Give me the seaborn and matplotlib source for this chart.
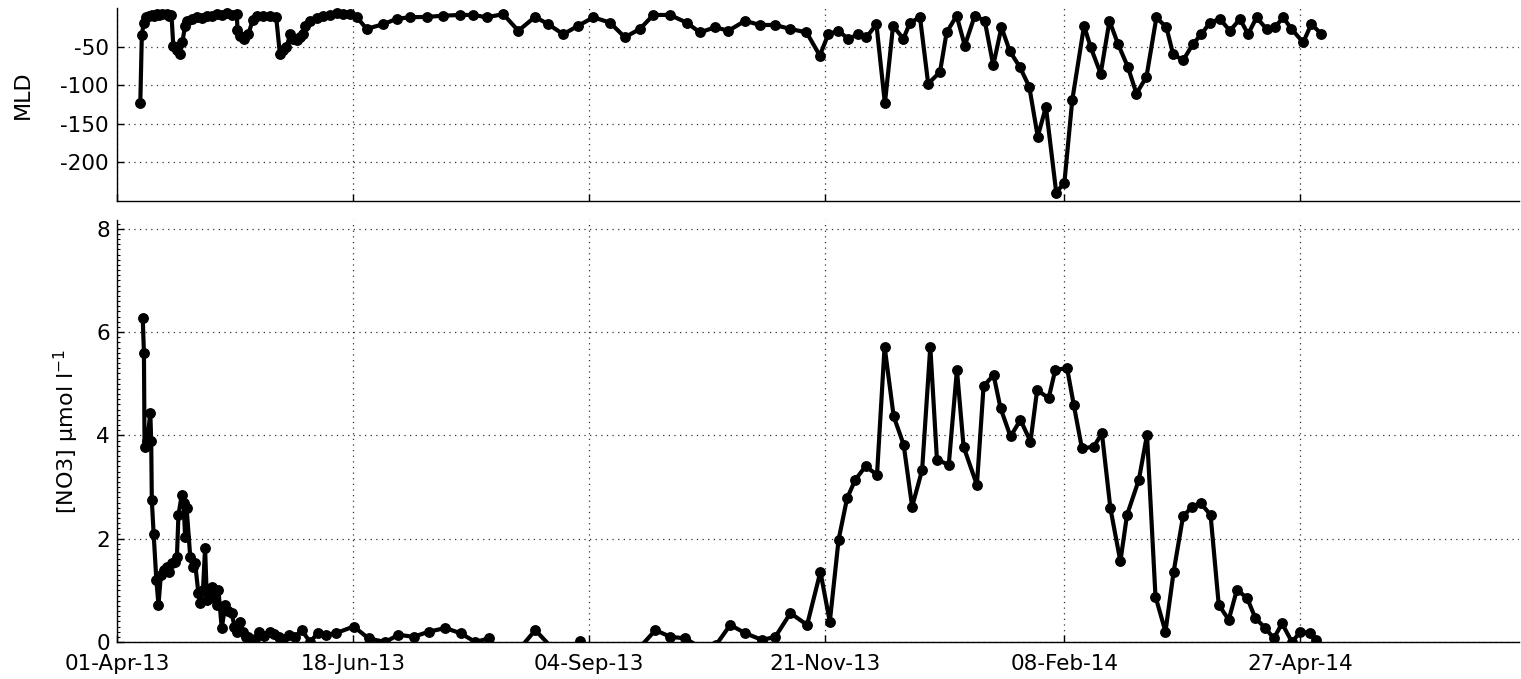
import matplotlib
matplotlib.use("Agg")
import matplotlib.pyplot as plt
import matplotlib.dates as mdates
from matplotlib.ticker import MultipleLocator
import seaborn as sns
import pandas as pd

# ---------------- data ----------------
start_date = "2013-04-01"
xlim_days = 463.2

tick_dates = ["2013-04-01", "2013-06-18", "2013-09-04",
              "2013-11-21", "2014-02-08", "2014-04-27"]

# Mixed layer depth: day offset from 01-Apr-13 and value (m)
mld_day = [7.7, 8.2, 8.8, 9.7, 10.6, 11.5, 12.3, 13.1, 14.0, 15.0, 16.4, 17.2,
           18.0, 18.6, 19.8, 20.9, 21.6, 22.5, 23.1, 24.7, 26.4, 28.0, 29.7,
           31.3, 33.0, 34.6, 36.3, 37.9, 39.6, 39.8, 40.8, 41.8, 43.4, 44.8,
           46.2, 48.4, 50.6, 52.6, 53.8, 55.0, 56.0, 57.2, 58.3, 59.4, 60.5,
           61.6, 62.1, 63.8, 66.0, 68.2, 70.4, 72.6, 74.8, 77.0, 79.2, 82.5,
           88.0, 92.4, 96.8, 102.3, 107.8, 113.3, 117.7, 122.1, 127.6, 132.6,
           138.1, 142.5, 147.4, 152.4, 157.4, 162.9, 167.8, 172.8, 177.2,
           182.7, 188.2, 192.6, 197.6, 202.0, 207.5, 212.4, 217.4, 222.3,
           227.8, 232.2, 235.0, 238.3, 241.6, 244.9, 247.6, 250.9, 253.7,
           256.4, 259.8, 262.0, 265.3, 268.0, 271.9, 274.1, 277.4, 280.1,
           283.4, 286.7, 289.5, 292.2, 295.0, 298.3, 301.4, 304.2, 306.9,
           310.3, 313.0, 315.6, 319.5, 321.7, 325.0, 327.9, 330.7, 334.0,
           336.8, 340.1, 343.4, 346.7, 348.9, 352.2, 355.5, 358.3, 361.1,
           364.4, 367.7, 371.0, 373.7, 376.5, 379.8, 382.5, 385.3, 388.0,
           391.9, 394.6, 397.9]
mld_val = [-123, -35, -20, -12, -11, -9, -10, -8, -9, -8, -8, -10,
           -9, -49, -54, -59, -44, -23, -17, -14, -12, -13, -10,
           -11, -8, -9, -6, -9, -8, -29, -36, -40, -34, -16,
           -10, -10, -10, -12, -59, -55, -51, -34, -40, -42, -38,
           -34, -23, -17, -13, -10, -9, -7, -8, -8, -12, -27,
           -21, -14, -12, -11.5, -10, -9, -9, -12, -8, -29.5,
           -11.5, -21, -34, -23, -12, -19, -38, -27, -9,
           -9, -19, -31.6, -25, -29.5, -16.6, -22, -22, -27,
           -31.6, -61.6, -34, -29.5, -40, -34, -38, -21, -123.6,
           -23, -40, -19, -12, -98, -83, -31.6, -10, -48.7,
           -10, -16.6, -74.4, -25, -56, -76.6, -102, -166.6, -128,
           -239, -226.5, -119.4, -23, -51, -85, -16.6, -46.5, -76.6,
           -110.8, -89.5, -12.3, -25, -59.4, -68, -46.5, -33.7, -18.8,
           -14.4, -29.4, -14.4, -33.7, -12.3, -27.2, -25, -12.3, -27,
           -44.5, -20.8, -33.7]

# Nitrate concentration: day offset from 01-Apr-13 and value (umol/l)
no3_day = [8.5, 8.9, 9.1, 10.0, 11.0, 11.3, 11.5, 12.1, 13.0, 13.7, 14.5, 15.5,
           16.5, 17.3, 18.1, 19.0, 19.8, 20.3, 21.4, 22.0, 22.5, 23.0, 24.2,
           25.0, 25.8, 26.9, 27.5, 28.4, 29.1, 29.7, 30.5, 31.3, 31.9, 33.0,
           33.5, 34.6, 35.8, 36.8, 37.9, 38.8, 39.5, 40.7, 41.5, 42.5, 43.4,
           44.5, 45.6, 46.8, 48.5, 50.6, 52.0, 53.4, 54.8, 56.7, 58.9, 61.0,
           63.8, 66.3, 69.0, 72.3, 78.2, 83.1, 88.6, 93.0, 98.0, 103.0, 108.5,
           113.5, 118.4, 122.8, 125.5, 129.0, 132.0, 138.2, 143.5, 146.0,
           149.0, 153.1, 156.0, 160.0, 165.0, 170.0, 172.0, 177.9, 182.8,
           187.8, 192.5, 196.0, 198.0, 202.6, 207.6, 213.1, 217.5, 222.5,
           228.0, 232.4, 235.5, 238.4, 241.2, 243.9, 247.3, 251.1, 253.6,
           256.6, 259.9, 262.7, 266.0, 268.7, 270.9, 274.8, 277.5, 279.7,
           284.1, 286.3, 289.6, 291.9, 295.2, 298.5, 301.8, 304.0, 307.8,
           310.0, 313.9, 316.1, 318.8, 322.7, 325.4, 328.2, 331.5, 333.7,
           337.6, 340.3, 343.1, 346.4, 349.1, 352.2, 355.2, 358.0, 361.3,
           364.0, 367.3, 370.0, 373.4, 376.1, 379.4, 382.2, 384.9, 388.2,
           391.0, 394.3, 396.0]
no3_val = [6.27, 5.6, 3.78, 3.9, 4.43, 3.9, 2.75, 2.1, 1.2, 0.72, 1.3, 1.4,
           1.46, 1.35, 1.53, 1.55, 1.65, 2.46, 2.85, 2.69, 2.04, 2.59, 1.65,
           1.45, 1.53, 0.94, 0.75, 1.0, 1.82, 0.81, 0.9, 1.07, 0.85, 0.72,
           1.01, 0.27, 0.72, 0.6, 0.56, 0.3, 0.2, 0.39, 0.2, 0.1, 0.1,
           0.0, 0.05, 0.2, 0.12, 0.2, 0.15, 0.1, 0.05, 0.14, 0.1, 0.23,
           0.0, 0.17, 0.14, 0.17, 0.3, 0.07, 0.0, 0.14, 0.1, 0.2, 0.27,
           0.17, 0.0, 0.07, -0.2, -0.3, -0.2, 0.23, -0.1, -0.3,
           -0.2, 0.02, -0.25, -0.3, -0.3, -0.2, -0.15, 0.23, 0.1,
           0.07, -0.1, -0.3, -0.05, 0.33, 0.17, 0.04, 0.1, 0.56,
           0.33, 1.36, 0.39, 1.98, 2.78, 3.14, 3.40, 3.24, 5.72,
           4.37, 3.82, 2.62, 3.33, 5.72, 3.53, 3.43, 5.27, 3.78,
           3.04, 4.95, 5.17, 4.53, 3.98, 4.30, 3.88, 4.88, 4.72,
           5.27, 5.30, 4.59, 3.75, 3.78, 4.04, 2.59, 1.56, 2.46,
           3.14, 4.01, 0.88, 0.20, 1.36, 2.43, 2.62, 2.69, 2.46,
           0.72, 0.43, 1.01, 0.85, 0.46, 0.27, 0.07, 0.36, 0.0,
           0.20, 0.17, 0.04]

mld_yticks = [-200, -150, -100, -50]
no3_yticks = [0, 2, 4, 6, 8]

# ---------------- styling ----------------
sns.set_style("ticks")
plt.rcParams["font.family"] = ["DejaVu Sans"]
plt.rcParams["mathtext.fontset"] = "dejavusans"
plt.rcParams["axes.unicode_minus"] = False
plt.rcParams["text.color"] = "black"
plt.rcParams["axes.labelcolor"] = "black"

W, H = 1521, 679
fig = plt.figure(figsize=(W / 100, H / 100), dpi=100)
left, right = 117, 1519
ax1 = fig.add_axes([left / W, 1 - 201 / H, (right - left) / W, 193 / H])
ax2 = fig.add_axes([left / W, 1 - 642 / H, (right - left) / W, 422 / H])

t0 = pd.Timestamp(start_date)
mld_t = t0 + pd.to_timedelta(mld_day, unit="D")
no3_t = t0 + pd.to_timedelta(no3_day, unit="D")

line_kw = dict(color="black", marker="o", markersize=6.8, linewidth=3.0,
               markeredgecolor="black", markeredgewidth=1,
               estimator=None, sort=False)
sns.lineplot(x=mld_t, y=mld_val, ax=ax1, **line_kw)
sns.lineplot(x=no3_t, y=no3_val, ax=ax2, **line_kw)

ticks = pd.to_datetime(tick_dates)
xmax = t0 + pd.Timedelta(days=xlim_days)

for ax in (ax1, ax2):
    ax.set_xlim(t0, xmax)
    ax.set_xticks(ticks)
    ax.xaxis.set_major_formatter(mdates.DateFormatter("%d-%b-%y"))
    for s in ("top", "right"):
        ax.spines[s].set_visible(False)
    for s in ("left", "bottom"):
        ax.spines[s].set_color("black")
        ax.spines[s].set_linewidth(1.0)
    ax.grid(True, which="major", linestyle=(0, (1, 3.5)), color="0.2",
            linewidth=0.9)
    ax.tick_params(which="major", direction="in", length=5, width=1,
                   labelsize=15.5, colors="black")
    ax.set_xlabel("")

ax1.set_ylim(-250, 0)
ax1.set_yticks(mld_yticks)
ax1.tick_params(axis="x", labelbottom=False)
ax1.tick_params(axis="y", pad=6)
ax1.set_ylabel("MLD", fontsize=16, color="black")
ax1.yaxis.set_label_coords(-0.060, 0.55)

ax2.set_ylim(0, 8.17)
ax2.set_yticks(no3_yticks)
ax2.yaxis.set_minor_locator(MultipleLocator(0.1))
ax2.tick_params(axis="y", which="minor", direction="in", length=2.5, width=0.8,
                colors="black")
ax2.tick_params(axis="y", pad=5)
ax2.tick_params(axis="x", pad=9)
ax2.set_ylabel("[NO3] µmol l$^{-1}$", fontsize=16, color="black")
ax2.yaxis.set_label_coords(-0.026, 0.5)

fig.savefig("out.png", dpi=100)
